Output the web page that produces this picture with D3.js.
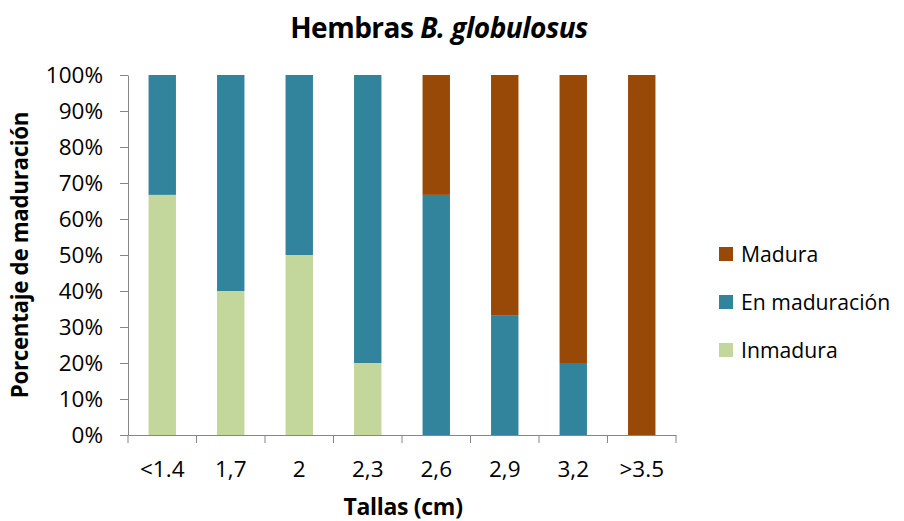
<!DOCTYPE html>
<html><head><meta charset="utf-8">
<script src="https://cdn.jsdelivr.net/npm/d3@7"></script>
<style>body{margin:0;background:#fff}svg{display:block}text{font-family:"Open Sans",sans-serif;fill:#000}</style>
</head><body><svg width="904" height="521"></svg>
<script>
const categories = ["<1.4","1,7","2","2,3","2,6","2,9","3,2",">3.5"];
const inmadura = [66.7,40,50,20,0,0,0,0];
const enMaduracion = [33.3,60,50,80,66.7,33.3,20,0];
const madura = [0,0,0,0,33.3,66.7,80,100];
const seriesNames = ["Inmadura","En maduración","Madura"];
const seriesColors = ["#c3d69b","#31849b","#984807"];
const yTicks = [0,10,20,30,40,50,60,70,80,90,100];

const svg = d3.select("svg");
const m = {l:128,r:228,t:75,b:86};
const W = 904, H = 521;
const x = d3.scaleBand().domain(categories).range([m.l, W-m.r]).paddingInner(0.6).paddingOuter(0.3);
const y = d3.scaleLinear().domain([0,100]).range([H-m.b, m.t]);

const rows = categories.map((c,i)=>({cat:c, Inmadura:inmadura[i], "En maduración":enMaduracion[i], Madura:madura[i]}));
const stack = d3.stack().keys(seriesNames)(rows);
svg.append("g").selectAll("g").data(stack).join("g")
  .attr("fill",(d,i)=>seriesColors[i])
  .selectAll("rect").data(d=>d).join("rect")
  .attr("x",d=>x(d.data.cat)).attr("width",x.bandwidth())
  .attr("y",d=>y(d[1])).attr("height",d=>y(d[0])-y(d[1]));

// y axis
const ya = svg.append("g").attr("transform",`translate(${m.l},0)`)
  .call(d3.axisLeft(y).tickValues(yTicks).tickFormat(d=>d+"%").tickSize(8).tickSizeOuter(0));
ya.select(".domain").attr("stroke","#868686");
ya.selectAll(".tick line").attr("stroke","#868686");
ya.selectAll(".tick text").attr("font-size","22.5px").attr("x",-25);

// x axis
const xa = svg.append("g").attr("transform",`translate(0,${H-m.b})`)
  .call(d3.axisBottom(x).tickSize(0).tickSizeOuter(0));
xa.select(".domain").attr("stroke","#868686");
xa.selectAll(".tick text").attr("font-size","22.5px").attr("y",26);
const step = x.step();
const bounds = d3.range(categories.length+1).map(i=>m.l + i*step);
xa.selectAll("line.sep").data(bounds).join("line").attr("class","sep")
  .attr("x1",d=>d).attr("x2",d=>d).attr("y1",0).attr("y2",8).attr("stroke","#868686");

// title
const t = svg.append("text").attr("x",439).attr("y",38).attr("text-anchor","middle")
  .attr("font-size","28px").attr("font-weight","bold").attr("letter-spacing","-0.5px");
t.append("tspan").text("Hembras ");
t.append("tspan").attr("font-style","italic").text("B. globulosus");

svg.append("text").attr("x",403).attr("y",515).attr("text-anchor","middle")
  .attr("font-size","23px").attr("font-weight","bold").attr("letter-spacing","-0.3px").text("Tallas (cm)");
svg.append("text").attr("transform","translate(28,255) rotate(-90)").attr("text-anchor","middle")
  .attr("font-size","22.3px").attr("font-weight","bold").attr("letter-spacing","-0.3px").text("Porcentaje de maduración");

// legend
const legOrder = [2,1,0];
const lg = svg.append("g").selectAll("g").data(legOrder).join("g")
  .attr("transform",(d,i)=>`translate(719,${254+i*48})`);
lg.append("rect").attr("x",0).attr("y",-7).attr("width",14).attr("height",14).attr("fill",d=>seriesColors[d]);
lg.append("text").attr("x",22).attr("y",8).attr("font-size","21.2px").text(d=>seriesNames[d]);
</script></body></html>
